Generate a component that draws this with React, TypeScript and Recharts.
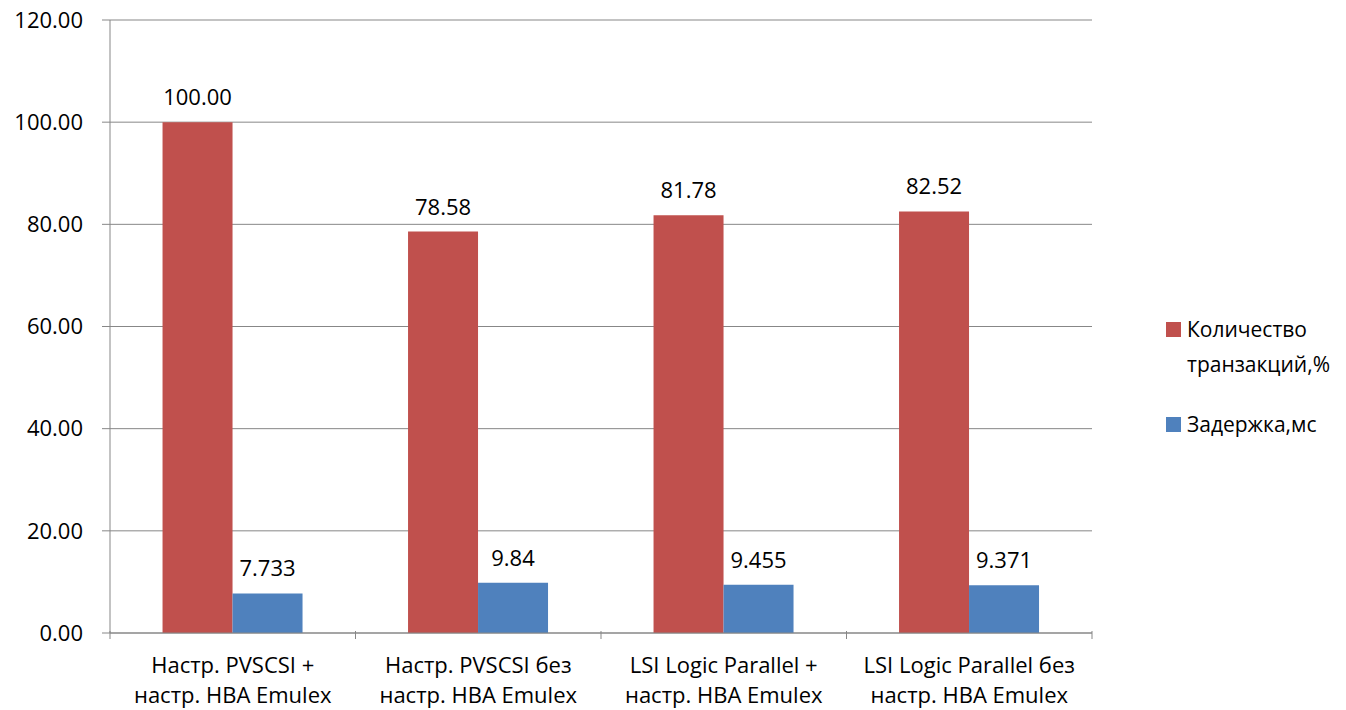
import React from "react";
import {
  BarChart,
  Bar,
  XAxis,
  YAxis,
  CartesianGrid,
  LabelList,
} from "recharts";

const categories = [
  ["Настр. PVSCSI +", "настр. HBA Emulex"],
  ["Настр. PVSCSI без", "настр. HBA Emulex"],
  ["LSI Logic Parallel +", "настр. HBA Emulex"],
  ["LSI Logic Parallel без", "настр. HBA Emulex"],
];
const transactions = [100.0, 78.58, 81.78, 82.52];
const latency = [7.733, 9.84, 9.455, 9.371];
const seriesNames = ["Количество транзакций,%", "Задержка,мс"];
const yTicks = [0, 20, 40, 60, 80, 100, 120];

const RED = "#C0504D";
const BLUE = "#4F81BD";
const GRID = "#878787";
const FONT = "'Open Sans', sans-serif";

const data = categories.map((c, i) => ({
  name: c.join(" "),
  lines: c,
  tx: transactions[i],
  lat: latency[i],
}));

const W = 1346;
const H = 710;
const M = { top: 20, right: 254, bottom: 0, left: 0 };
const X_H = 77;
const Y_W = 110;
const band = (W - M.right - Y_W) / categories.length;

function CatTick(props: any) {
  const { x, y, index } = props;
  const lines = data[index].lines;
  const axisY = y - 10;
  return (
    <g>
      <line x1={x - band / 2} x2={x - band / 2} y1={axisY} y2={axisY + 8} stroke={GRID} />
      {index === categories.length - 1 && (
        <line x1={x + band / 2} x2={x + band / 2} y1={axisY} y2={axisY + 8} stroke={GRID} />
      )}
      <text x={x} y={y} textAnchor="middle" fontSize={22} fontFamily={FONT} fill="#000">
        <tspan x={x} dy={32}>{lines[0]}</tspan>
        <tspan x={x} dy={30}>{lines[1]}</tspan>
      </text>
    </g>
  );
}

function LegendBox() {
  const colors = [RED, BLUE];
  return (
    <div
      style={{
        position: "absolute",
        left: 1166,
        top: 312,
        fontFamily: FONT,
        fontSize: 21,
        color: "#000",
      }}
    >
      {seriesNames.map((n, i) => (
        <div key={n} style={{ display: "flex", alignItems: "flex-start", marginBottom: i === 0 ? 25 : 0 }}>
          <div style={{ width: 15, height: 15, background: colors[i], marginTop: 10, marginRight: 6, flex: "none" }} />
          <div style={{ width: 170, lineHeight: "35px" }}>{n}</div>
        </div>
      ))}
    </div>
  );
}

export default function App() {
  return (
    <div style={{ position: "absolute", left: 0, top: 0, width: W, height: H, background: "#fff" }}>
      <BarChart
        width={W}
        height={H}
        data={data}
        margin={M}
        barCategoryGap="21.4%"
        barGap={0}
      >
        <CartesianGrid vertical={false} stroke={GRID} strokeWidth={1} />
        <XAxis
          dataKey="name"
          tickLine={false}
          axisLine={{ stroke: GRID }}
          tick={<CatTick />}
          interval={0}
          height={X_H}
        />
        <YAxis
          domain={[0, 120]}
          ticks={yTicks}
          width={Y_W}
          tickSize={8}
          tickMargin={19}
          tickLine={{ stroke: GRID }}
          axisLine={{ stroke: GRID }}
          tickFormatter={(v: number) => v.toFixed(2)}
          tick={{ fontSize: 22, fontFamily: FONT, fill: "#000" }}
        />
        <Bar dataKey="tx" name={seriesNames[0]} fill={RED} isAnimationActive={false}>
          <LabelList
            dataKey="tx"
            position="top"
            offset={17}
            formatter={(v: any) => Number(v).toFixed(2)}
            style={{ fontSize: 22, fontFamily: FONT, fill: "#000" }}
          />
        </Bar>
        <Bar dataKey="lat" name={seriesNames[1]} fill={BLUE} isAnimationActive={false}>
          <LabelList
            dataKey="lat"
            position="top"
            offset={17}
            formatter={(v: any) => String(v)}
            style={{ fontSize: 22, fontFamily: FONT, fill: "#000" }}
          />
        </Bar>
      </BarChart>
      <LegendBox />
    </div>
  );
}
